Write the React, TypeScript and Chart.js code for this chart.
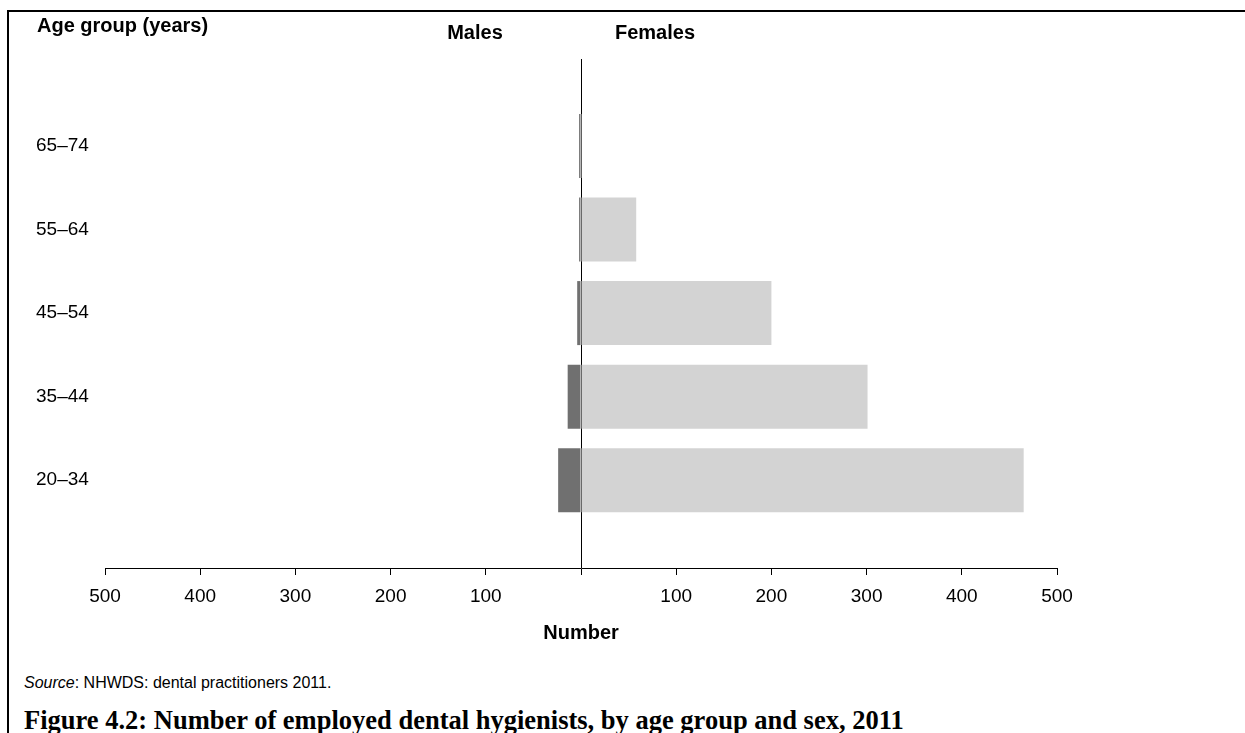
import React, { useEffect, useRef } from 'react';
import { Chart, registerables } from 'chart.js';

Chart.register(...registerables);

// Age groups, bottom to top
const categories: string[] = ['20–34', '35–44', '45–54', '55–64', '65–74'];
const males: number[] = [24, 14, 4, 2, 2];
const females: number[] = [465, 301, 200, 58, 1];
const xTickValues: number[] = [-500, -400, -300, -200, -100, 0, 100, 200, 300, 400, 500];

const FONT = '"Liberation Sans", Arial, sans-serif';

const headerPlugin = {
  id: 'headerTexts',
  afterDraw(chart: any) {
    const { ctx, chartArea } = chart;
    ctx.save();
    ctx.fillStyle = '#000';
    ctx.textBaseline = 'middle';
    ctx.font = `bold 20px ${FONT}`;
    ctx.textAlign = 'left';
    ctx.fillText('Age group (years)', chartArea.left - 68, 26);
    ctx.textAlign = 'center';
    const zero = chart.scales.x.getPixelForValue(0);
    ctx.fillText('Males', zero - 106, 33);
    ctx.fillText('Females', zero + 74, 33);
    ctx.restore();
  },
};

export default function App() {
  const ref = useRef<HTMLCanvasElement>(null);

  useEffect(() => {
    if (!ref.current) return;
    const chart = new Chart(ref.current, {
      type: 'bar',
      data: {
        datasets: [
          {
            label: 'Males',
            data: males.map((v, i) => ({ x: -v, y: i + 1 })),
            backgroundColor: '#707070',
            borderWidth: 0,
          },
          {
            label: 'Females',
            data: females.map((v, i) => ({ x: v, y: i + 1 })),
            backgroundColor: '#d3d3d3',
            borderWidth: 0,
          },
        ],
      } as any,
      options: {
        indexAxis: 'y',
        responsive: false,
        animation: false,
        layout: { padding: { left: 36, top: 59, right: 188, bottom: 0 } },
        datasets: {
          bar: { grouped: false, categoryPercentage: 1, barPercentage: 0.766 },
        },
        plugins: {
          legend: { display: false },
          tooltip: { enabled: false },
        },
        scales: {
          x: {
            type: 'linear',
            min: -500,
            max: 500,
            offset: false,
            afterBuildTicks: (s: any) => {
              s.ticks = xTickValues.map((v) => ({ value: v }));
            },
            afterFit: (s: any) => {
              s.height = 92;
            },
            ticks: {
              autoSkip: false,
              maxRotation: 0,
              padding: 10,
              color: '#000',
              font: { family: FONT, size: 19 },
              callback: (v: any) => (Number(v) === 0 ? '' : String(Math.abs(Number(v)))),
            },
            grid: {
              color: (c: any) => (c.tick && c.tick.value === 0 ? '#000' : 'rgba(0,0,0,0)'),
              tickColor: '#000',
              tickLength: 7,
              lineWidth: 1,
            },
            border: { display: true, color: '#000', width: 1 },
            title: {
              display: true,
              text: 'Number',
              color: '#000',
              font: { family: FONT, size: 20, weight: 'bold' },
              padding: { top: 0, bottom: 15 },
            },
          },
          y: {
            type: 'linear',
            min: -0.05,
            max: 6.04,
            offset: false,
            bounds: 'data',
            afterBuildTicks: (s: any) => {
              s.ticks = categories.map((_, i) => ({ value: i + 1 }));
            },
            afterFit: (s: any) => {
              s.width = 69;
            },
            ticks: {
              crossAlign: 'far',
              color: '#000',
              font: { family: FONT, size: 19 },
              callback: (v: any) => categories[Number(v) - 1] ?? '',
            },
            grid: { display: false, offset: false },
            border: { display: false },
          },
        },
      } as any,
      plugins: [headerPlugin],
    });
    return () => chart.destroy();
  }, []);

  return (
    <div style={{ position: 'fixed', left: 0, top: 0, width: 1245, height: 733, background: '#fff', overflow: 'hidden' }}>
      <div style={{ position: 'absolute', left: 7, top: 10, width: 1238, height: 2, background: '#000' }} />
      <div style={{ position: 'absolute', left: 7, top: 10, width: 2, height: 723, background: '#000' }} />
      <canvas ref={ref} width={1245} height={660} style={{ position: 'absolute', left: 0, top: 0 }} />
      <div
        style={{
          position: 'absolute',
          left: 24,
          top: 673,
          fontFamily: FONT,
          fontSize: 16,
          lineHeight: '20px',
          color: '#000',
          whiteSpace: 'nowrap',
        }}
      >
        <i>Source</i>: NHWDS: dental practitioners 2011.
      </div>
      <div
        style={{
          position: 'absolute',
          left: 24,
          top: 704,
          fontFamily: '"Liberation Serif", "DejaVu Serif", serif',
          fontWeight: 'bold',
          fontSize: 26.5,
          lineHeight: '32px',
          color: '#000',
          whiteSpace: 'nowrap',
        }}
      >
        Figure 4.2: Number of employed dental hygienists, by age group and sex, 2011
      </div>
    </div>
  );
}
